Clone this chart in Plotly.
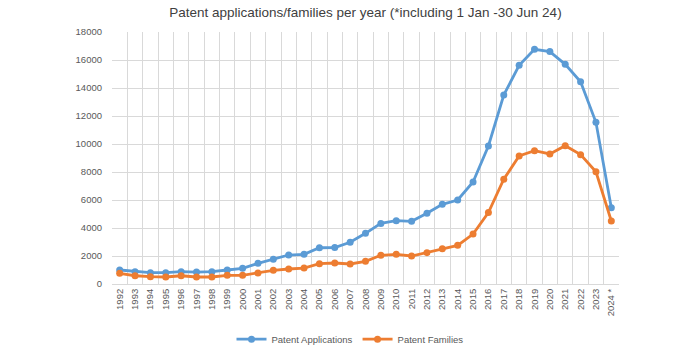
import plotly.graph_objects as go

years = [str(y) for y in range(1992, 2024)] + ["2024 *"]
applications = [1000, 880, 810, 810, 880, 850, 880, 1000, 1120, 1480, 1760, 2070, 2120, 2590, 2600, 2980, 3620, 4330,
                4520, 4480, 5050, 5690, 6000, 7290, 9860, 13500, 15620, 16760, 16600, 15690, 14450, 11550, 5450]
families = [760, 590, 520, 500, 590, 500, 500, 620, 620, 790, 980, 1070, 1140, 1450, 1500, 1430, 1620, 2050,
            2120, 2000, 2240, 2520, 2760, 3570, 5100, 7480, 9140, 9520, 9290, 9880, 9240, 8020, 4500]

blue = "#5B9BD5"
orange = "#ED7D31"

fig = go.Figure()
fig.add_trace(go.Scatter(x=years, y=applications, name="Patent Applications", mode="lines+markers",
                         line=dict(color=blue, width=2.8), marker=dict(color=blue, size=7)))
fig.add_trace(go.Scatter(x=years, y=families, name="Patent Families", mode="lines+markers",
                         line=dict(color=orange, width=2.8), marker=dict(color=orange, size=7)))

fig.update_layout(
    width=700, height=350,
    margin=dict(l=112, r=81, t=32, b=66, autoexpand=False),
    paper_bgcolor="white", plot_bgcolor="white",
    font=dict(family="Liberation Sans, Arial, sans-serif", color="#595959"),
    title=dict(text="Patent applications/families per year (*including 1 Jan -30 Jun 24)",
               x=0.522, xanchor="center", y=0.965, yanchor="middle",
               font=dict(size=13.5, color="#404040")),
    showlegend=True,
    legend=dict(orientation="h", x=0.5, xanchor="center", xref="container",
                y=0.031, yanchor="middle", yref="container",
                font=dict(size=9.5, color="#595959"), itemwidth=30, tracegroupgap=0),
    xaxis=dict(type="category", tickson="boundaries", showgrid=True, gridcolor="#D9D9D9", gridwidth=1,
               tickangle=-90, tickfont=dict(size=9.5, color="#595959"), ticks="",
               showline=True, linecolor="#D9D9D9", range=[-0.5, 32.5], mirror=False, automargin=False),
    yaxis=dict(range=[0, 18000], dtick=2000, tickformat="d", showgrid=True, gridcolor="#D9D9D9", gridwidth=1,
               tickfont=dict(size=9.5, color="#595959"), zeroline=False, showline=False, ticks="",
               ticklabelstandoff=9, automargin=False),
)
fig.write_html("out.html")
